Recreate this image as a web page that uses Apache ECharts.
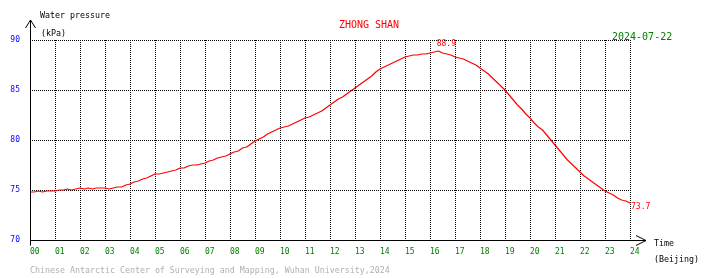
<!DOCTYPE html>
<html>
<head>
<meta charset="utf-8">
<script src="https://cdn.jsdelivr.net/npm/echarts@6/dist/echarts.min.js"></script>
<style>
html,body{margin:0;padding:0;background:#fff;}
#c{width:710px;height:278px;}
</style>
</head>
<body>
<div id="c"></div>
<script>
// Water pressure (kPa), one reading every 10 minutes from 00:00 to 24:00 (Beijing)
const pressure = [
  74.8, 74.8, 74.9, 74.8, 74.9, 74.9,
  74.9, 75.0, 75.0, 75.1, 75.0, 75.1,
  75.2, 75.1, 75.2, 75.1, 75.2, 75.2,
  75.2, 75.1, 75.2, 75.3, 75.3, 75.5,
  75.6, 75.8, 75.9, 76.1, 76.2, 76.4,
  76.6, 76.6, 76.7, 76.8, 76.9, 77.0,
  77.2, 77.2, 77.4, 77.5, 77.5, 77.6,
  77.7, 77.9, 78.0, 78.2, 78.3, 78.4,
  78.6, 78.8, 78.9, 79.2, 79.3, 79.6,
  79.9, 80.1, 80.3, 80.6, 80.8, 81.0,
  81.2, 81.3, 81.4, 81.6, 81.8, 82.0,
  82.2, 82.3, 82.5, 82.7, 82.9, 83.2,
  83.5, 83.8, 84.1, 84.3, 84.6, 84.9,
  85.2, 85.5, 85.8, 86.1, 86.4, 86.8,
  87.1, 87.3, 87.5, 87.7, 87.9, 88.1,
  88.3, 88.4, 88.5, 88.5, 88.6, 88.6,
  88.7, 88.8, 88.9, 88.7, 88.6, 88.5,
  88.3, 88.2, 88.1, 87.9, 87.7, 87.5,
  87.2, 86.9, 86.6, 86.2, 85.8, 85.4,
  85.0, 84.5, 84.0, 83.5, 83.1, 82.6,
  82.2, 81.7, 81.3, 81.0, 80.5, 80.0,
  79.5, 79.0, 78.5, 78.0, 77.6, 77.2,
  76.8, 76.4, 76.1, 75.8, 75.5, 75.2,
  74.9, 74.7, 74.5, 74.2, 74.0, 73.9,
  73.7
];
const minutesPerSample = 10;
const hours = pressure.map((_, i) => i * minutesPerSample / 60);
const xTickLabels = ['00','01','02','03','04','05','06','07','08','09','10','11','12',
                     '13','14','15','16','17','18','19','20','21','22','23','24'];
const yTicks = [70, 75, 80, 85, 90];

const stationName = 'ZHONG SHAN';
const dateText = '2024-07-22';
const footer = 'Chinese Antarctic Center of Surveying and Mapping, Wuhan University,2024';

const MONO = '"DejaVu Sans Mono", "Liberation Mono", monospace';
const chart = echarts.init(document.getElementById('c'), null, {renderer: 'canvas'});

const seriesData = hours.map((h, i) => [h, pressure[i]]);

const dotted = {color: '#000', width: 1, type: [1, 1]};

chart.setOption({
  animation: false,
  backgroundColor: '#fff',
  grid: {left: 30, right: 80, top: 40, bottom: 38, containLabel: false},
  xAxis: {
    type: 'value', min: 0, max: 24, interval: 1,
    axisLine: {show: false}, axisTick: {show: false},
    splitLine: {show: true, lineStyle: dotted},
    axisLabel: {
      color: '#008000', fontFamily: MONO, fontSize: 8, align: 'left', margin: 8,
      formatter: v => xTickLabels[Math.round(v)] || ''
    }
  },
  yAxis: {
    type: 'value', min: yTicks[0], max: yTicks[yTicks.length - 1], interval: 5,
    axisLine: {show: false}, axisTick: {show: false},
    splitLine: {show: true, lineStyle: dotted},
    axisLabel: {
      color: '#0000ff', fontFamily: MONO, fontSize: 8, margin: 10,
      padding: [0, 0, 4, 0],
      formatter: v => String(v)
    }
  },
  series: [{
    type: 'line',
    data: seriesData,
    showSymbol: false,
    symbol: 'none',
    lineStyle: {color: '#ff0000', width: 1.2},
    itemStyle: {color: '#ff0000'},
    endLabel: {
      show: true, color: '#ff0000', fontFamily: MONO, fontSize: 8,
      distance: 1, offset: [0, 4],
      formatter: p => p.value[1].toFixed(1)
    },
    markPoint: {
      symbol: 'circle', symbolSize: 0,
      data: [{type: 'max', valueDim: 'y'}],
      label: {
        show: true, position: 'top', distance: 3, offset: [8, 0],
        color: '#ff0000', fontFamily: MONO, fontSize: 8,
        formatter: p => Number(p.value).toFixed(1)
      }
    }
  }]
});

function drawDecor() {
  const p00 = chart.convertToPixel({gridIndex: 0}, [0, yTicks[0]]);
  const p90 = chart.convertToPixel({gridIndex: 0}, [0, yTicks[yTicks.length - 1]]);
  const p24 = chart.convertToPixel({gridIndex: 0}, [24, yTicks[0]]);
  const x0 = Math.round(p00[0]) + 0.5;
  const yB = Math.round(p00[1]) + 0.5;
  const yTop = p90[1] - 20;
  const xEnd = p24[0] + 16;
  const line = {stroke: '#000', lineWidth: 1, fill: null};
  const txt = (text, x, y, color, size, align) => ({
    type: 'text', silent: true, z: 100,
    style: {text, x, y, fill: color, font: size + 'px ' + MONO, align: align || 'left', verticalAlign: 'middle'}
  });
  chart.setOption({
    graphic: [
      {type: 'line', shape: {x1: x0, y1: yB + 5, x2: x0, y2: yTop}, style: line, z: 100},
      {type: 'polyline', shape: {points: [[x0 - 5, yTop + 8], [x0, yTop], [x0 + 5, yTop + 8]]}, style: line, z: 100},
      {type: 'line', shape: {x1: x0, y1: yB, x2: xEnd, y2: yB}, style: line, z: 100},
      {type: 'polyline', shape: {points: [[xEnd - 10, yB - 5], [xEnd, yB], [xEnd - 10, yB + 5]]}, style: line, z: 100},
      txt('Water pressure', 40, 16, '#000', 8.3),
      txt('(kPa)', 41, 34, '#000', 8.3),
      txt(stationName, 369, 25, '#ff0000', 10, 'center'),
      txt(dateText, 612, 37, '#008000', 10),
      txt('Time', 654, 244, '#000', 8.3),
      txt('(Beijing)', 654, 260, '#000', 8.3),
      txt(footer, 30, 270.5, '#b0b0b0', 8.3)
    ]
  });
}
drawDecor();
</script>
</body>
</html>
